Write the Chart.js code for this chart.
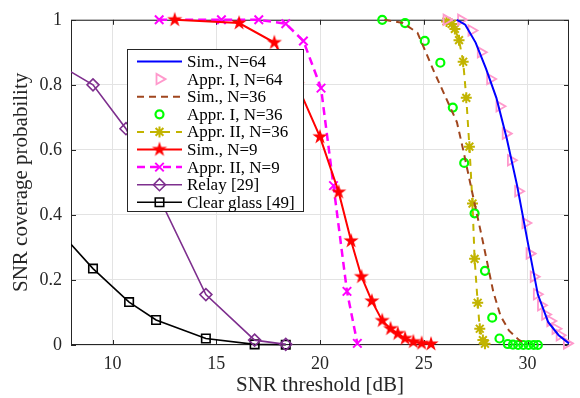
<!DOCTYPE html>
<html>
<head>
<meta charset="utf-8">
<script src="https://cdn.jsdelivr.net/npm/chart.js@4/dist/chart.umd.min.js"></script>
<style>
  body { margin: 0; background: #fff; }
  #c { display: block; }
</style>
</head>
<body>
<canvas id="c" width="580" height="398"></canvas>
<script>
// axis ticks
const xTicks = [10, 15, 20, 25, 30];
const yTicks = [0, 0.2, 0.4, 0.6, 0.8, 1];
const xMin = 8, xMax = 32;

// Sim., N=64
const sim64X = [26.6, 27, 27.5, 28, 28.5, 29, 29.5, 30, 30.5, 31, 31.5, 32];
const sim64Y = [1.0, 0.985, 0.93, 0.85, 0.76, 0.635, 0.49, 0.32, 0.155, 0.07, 0.03, 0.005];
// Appr. I, N=64
const appr64X = [26.1, 26.8, 27.3, 27.75, 28.2, 28.65, 28.95, 29.2, 29.55, 29.9, 30.1, 30.3, 30.45, 30.65, 30.85, 31.1, 31.35, 31.55, 31.9];
const appr64Y = [1.0, 1.0, 0.967, 0.9, 0.818, 0.734, 0.65, 0.568, 0.473, 0.375, 0.281, 0.21, 0.156, 0.122, 0.094, 0.074, 0.05, 0.03, 0.005];
// Sim., N=36
const sim36X = [23.1, 24.0, 24.7, 25.5, 26.0, 26.6, 26.9, 27.4, 27.8, 28.35, 28.7, 29.1, 29.6, 29.9];
const sim36Y = [1.0, 0.99, 0.96, 0.84, 0.77, 0.685, 0.6, 0.45, 0.333, 0.164, 0.09, 0.045, 0.015, 0.005];
// Appr. I, N=36
const appr1_36X = [23.0, 24.1, 25.05, 25.8, 26.4, 26.95, 27.45, 27.95, 28.3, 28.65, 29.05, 29.3, 29.55, 29.8, 30.05, 30.3, 30.5];
const appr1_36Y = [1.0, 0.99, 0.935, 0.868, 0.73, 0.56, 0.405, 0.228, 0.084, 0.02, 0.003, 0.001, 0, 0, 0, 0, 0];
// Appr. II, N=36
const appr2_36X = [26.1, 26.35, 26.5, 26.7, 26.9, 27.05, 27.2, 27.35, 27.45, 27.6, 27.7, 27.85, 27.95];
const appr2_36Y = [0.995, 0.987, 0.972, 0.9375, 0.871, 0.76, 0.61, 0.435, 0.265, 0.13, 0.05, 0.015, 0.004];
// Sim., N=9
const sim9X = [13, 16.1, 17.8, 18.9, 20.0, 20.9, 21.5, 22.0, 22.5, 23.0, 23.4, 23.75, 24.1, 24.5, 24.9, 25.35];
const sim9Y = [1.0, 0.99, 0.93, 0.8, 0.64, 0.47, 0.32, 0.21, 0.135, 0.075, 0.05, 0.035, 0.02, 0.01, 0.005, 0.003];
// Appr. II, N=9
const appr2_9X = [12.25, 15.25, 17.05, 18.35, 19.2, 20.05, 20.65, 21.3, 21.8];
const appr2_9Y = [1, 1, 1, 0.988, 0.935, 0.79, 0.49, 0.165, 0.005];
// Relay [29]
const relayX = [8, 9.06, 10.65, 14.5, 16.85, 18.35];
const relayY = [0.84, 0.8, 0.665, 0.155, 0.015, 0.002];
// Clear glass [49]
const glassX = [8, 9.06, 10.8, 12.1, 14.5, 16.85, 18.35];
const glassY = [0.31, 0.235, 0.132, 0.077, 0.02, 0.002, 0.001];

const FONT = "'Liberation Serif', 'Times New Roman', serif";
const AXIS = '#262626';

// filled pentagram marker
function pentagram(r, color) {
  const s = Math.ceil(r * 2 + 2);
  const c = document.createElement('canvas');
  c.width = s; c.height = s;
  const g = c.getContext('2d');
  g.beginPath();
  for (let i = 0; i < 10; i++) {
    const rr = i % 2 ? r * 0.382 : r;
    const a = -Math.PI / 2 + i * Math.PI / 5;
    g.lineTo(s / 2 + rr * Math.cos(a), s / 2 + rr * Math.sin(a));
  }
  g.closePath();
  g.fillStyle = color;
  g.fill();
  return c;
}
const redStar = pentagram(8, '#ff0000');

function pts(xs, ys) {
  return xs.map((x, i) => ({x: x, y: ys[i]}));
}

function mk(label, xs, ys, o) {
  return Object.assign({
    label: label,
    data: pts(xs, ys),
    showLine: true,
    borderWidth: 2,
    pointRadius: 0,
    pointBorderWidth: 1.6,
    pointBackgroundColor: 'rgba(0,0,0,0)',
    fill: false,
    tension: 0
  }, o);
}

// hide a marker that sits on the left edge of the plot
const edgeRadius = r => ctx => (ctx.raw && ctx.raw.x <= xMin ? 0 : r);

const datasets = [
  mk('Sim., N=64', sim64X, sim64Y, {borderColor: '#0000ff'}),
  mk('Appr. I, N=64', appr64X, appr64Y, {showLine: false, borderColor: '#ff99cc', pointStyle: 'triangle', pointRotation: 90, pointRadius: 6, pointBorderWidth: 1.8, pointBorderColor: '#ff99cc'}),
  mk('Sim., N=36', sim36X, sim36Y, {borderColor: '#a0461e', borderDash: [7, 5]}),
  mk('Appr. I, N=36', appr1_36X, appr1_36Y, {showLine: false, borderColor: '#00ff00', pointStyle: 'circle', pointRadius: 4, pointBorderWidth: 2.2, pointBorderColor: '#00ff00'}),
  mk('Appr. II, N=36', appr2_36X, appr2_36Y, {borderColor: '#c2b400', borderDash: [7, 6], pointStyle: 'star', pointRadius: 5.5, pointBorderWidth: 2, pointBorderColor: '#c2b400'}),
  mk('Sim., N=9', sim9X, sim9Y, {borderColor: '#ff0000', pointStyle: redStar, pointRadius: 7}),
  mk('Appr. II, N=9', appr2_9X, appr2_9Y, {borderColor: '#ff00ff', borderWidth: 2.5, borderDash: [8, 5], pointStyle: 'crossRot', pointRadius: 6, pointBorderWidth: 2, pointBorderColor: '#ff00ff'}),
  mk('Relay [29]', relayX, relayY, {borderColor: '#7e2f8e', borderWidth: 1.6, pointStyle: 'rectRot', pointRadius: edgeRadius(6), pointBorderColor: '#7e2f8e'}),
  mk('Clear glass [49]', glassX, glassY, {borderColor: '#000000', borderWidth: 1.6, pointStyle: 'rect', pointRadius: edgeRadius(6), pointBorderColor: '#000000'})
];
datasets.forEach(d => { d.clip = {left: 0, top: 12, right: 12, bottom: 12}; });

// axes box with inward ticks, like the original figure
const framePlugin = {
  id: 'frame',
  beforeDatasetsDraw(chart) {
    const {ctx, chartArea: a, scales} = chart;
    ctx.save();
    ctx.strokeStyle = AXIS;
    ctx.lineWidth = 1;
    ctx.strokeRect(a.left + 0.5, a.top + 0.5, a.right - a.left - 1, a.bottom - a.top - 1);
    const tl = 5;
    ctx.beginPath();
    xTicks.forEach(v => {
      const px = Math.round(scales.x.getPixelForValue(v)) + 0.5;
      ctx.moveTo(px, a.bottom); ctx.lineTo(px, a.bottom - tl);
      ctx.moveTo(px, a.top); ctx.lineTo(px, a.top + tl);
    });
    yTicks.forEach(v => {
      const py = Math.round(scales.y.getPixelForValue(v)) + 0.5;
      ctx.moveTo(a.left, py); ctx.lineTo(a.left + tl, py);
      ctx.moveTo(a.right, py); ctx.lineTo(a.right - tl, py);
    });
    ctx.stroke();
    ctx.restore();
  }
};

// boxed legend inside the plot
const legendPlugin = {
  id: 'boxLegend',
  afterDatasetsDraw(chart) {
    const ctx = chart.ctx;
    const bx = 127, by = 49, bw = 176, bh = 162, row = 17.6;
    ctx.save();
    ctx.fillStyle = '#fff';
    ctx.fillRect(bx, by, bw, bh);
    ctx.strokeStyle = AXIS;
    ctx.lineWidth = 1;
    ctx.strokeRect(bx + 0.5, by + 0.5, bw, bh);
    ctx.font = '17px ' + FONT;
    ctx.textBaseline = 'middle';
    chart.data.datasets.forEach((d, i) => {
      const y = by + 12.5 + i * row;
      if (d.showLine) {
        ctx.save();
        ctx.strokeStyle = d.borderColor;
        ctx.lineWidth = d.borderWidth;
        ctx.setLineDash(d.borderDash || []);
        ctx.beginPath();
        ctx.moveTo(bx + 10, y); ctx.lineTo(bx + 55, y);
        ctx.stroke();
        ctx.restore();
      }
      if (d.pointStyle) {
        const r = typeof d.pointRadius === 'function' ? 6 : d.pointRadius;
        ctx.save();
        ctx.strokeStyle = d.pointBorderColor || d.borderColor;
        ctx.fillStyle = d.pointBackgroundColor;
        ctx.lineWidth = d.pointBorderWidth;
        ctx.setLineDash([]);
        Chart.helpers.drawPoint(ctx, {pointStyle: d.pointStyle, rotation: d.pointRotation || 0, radius: r, borderWidth: d.pointBorderWidth}, bx + 32.5, y);
        ctx.restore();
      }
      ctx.fillStyle = '#000';
      ctx.fillText(d.label, bx + 60, y + 1);
    });
    ctx.restore();
  }
};

new Chart(document.getElementById('c'), {
  type: 'line',
  data: {datasets: datasets},
  options: {
    responsive: false,
    animation: false,
    layout: {padding: {top: 9, right: 11, left: 0, bottom: 0}},
    plugins: {legend: {display: false}, tooltip: {enabled: false}},
    scales: {
      x: {
        type: 'linear',
        min: xMin, max: xMax,
        afterBuildTicks: s => { s.ticks = xTicks.map(v => ({value: v})); },
        afterFit: s => { s.height = 53; },
        grid: {color: '#e3e3e3', drawTicks: false},
        border: {display: false},
        ticks: {padding: 8, color: AXIS, font: {family: FONT, size: 18}, maxRotation: 0},
        title: {display: true, text: 'SNR threshold [dB]', color: AXIS, font: {family: FONT, size: 21}, padding: {top: 0, bottom: 0}}
      },
      y: {
        min: 0, max: 1,
        afterBuildTicks: s => { s.ticks = yTicks.map(v => ({value: v})); },
        afterFit: s => { s.width = 71; },
        grid: {color: '#e3e3e3', drawTicks: false},
        border: {display: false},
        ticks: {padding: 9, color: AXIS, font: {family: FONT, size: 18}, callback: v => String(v)},
        title: {display: true, text: 'SNR coverage probability', color: AXIS, font: {family: FONT, size: 21}, padding: {top: 9, bottom: 0}}
      }
    }
  },
  plugins: [framePlugin, legendPlugin]
});
</script>
</body>
</html>
